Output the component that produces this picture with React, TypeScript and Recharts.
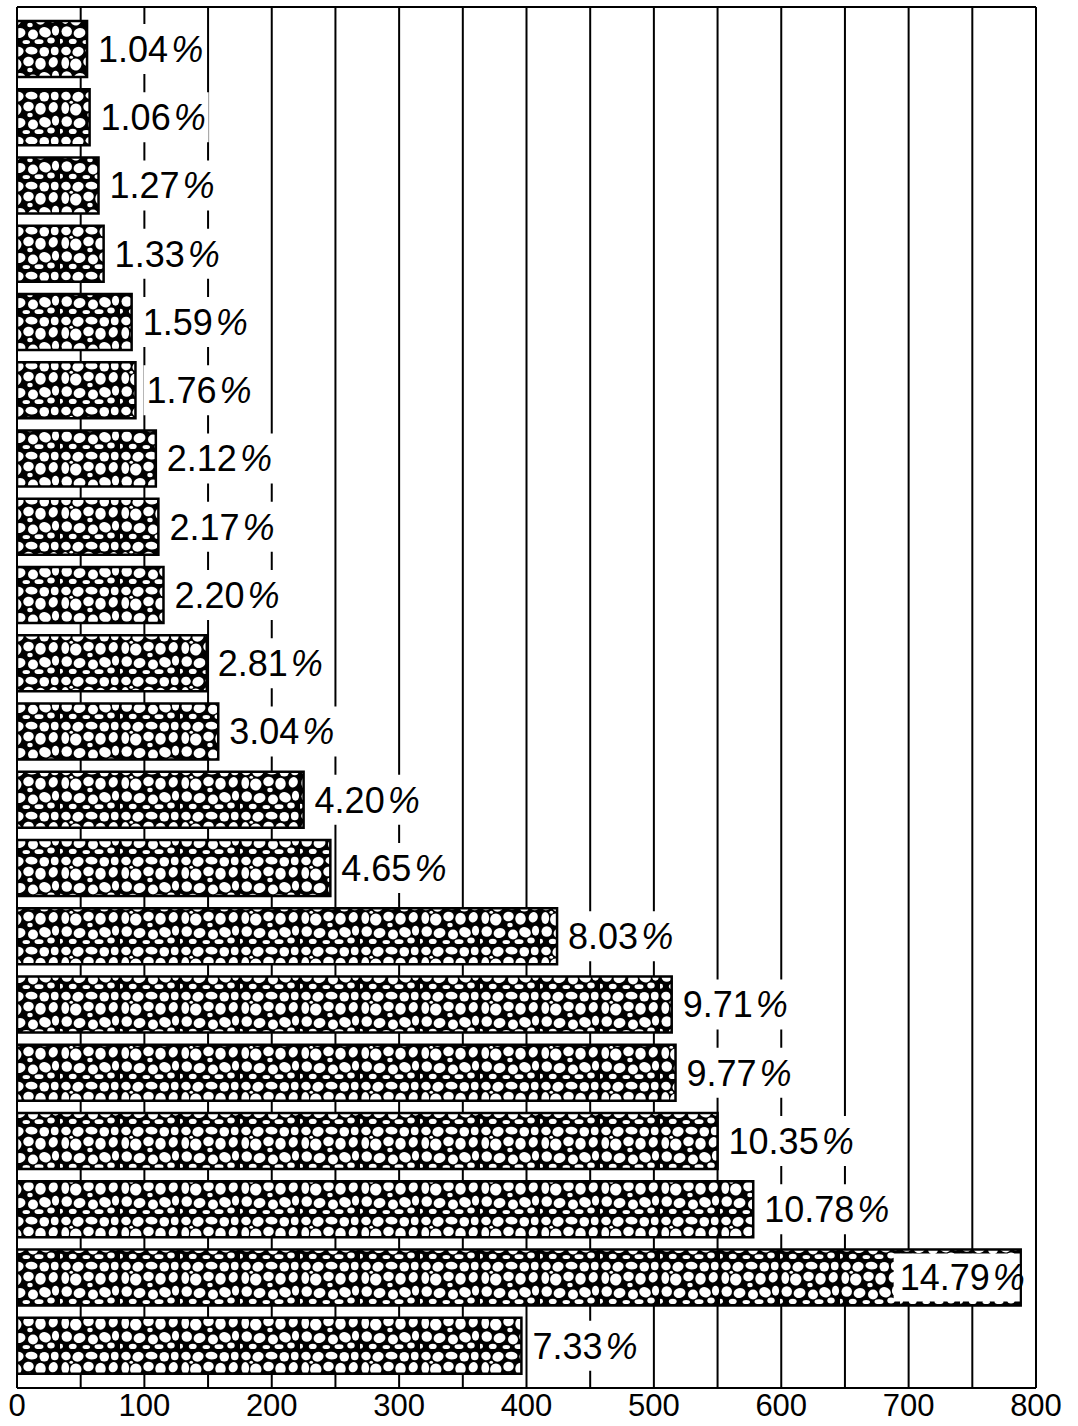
import { BarChart, Bar, XAxis, YAxis, CartesianGrid, LabelList } from 'recharts';

const categories = ['1', '2', '3', '4', '5', '6', '7', '8', '9', '10', '11', '12', '13', '14', '15', '16', '17', '18', '19', '20'];
const counts = [55, 57, 64, 68, 90, 93, 109, 111, 115, 149, 158, 225, 246, 424, 514, 517, 550, 578, 788, 396];
const shares = [1.04, 1.06, 1.27, 1.33, 1.59, 1.76, 2.12, 2.17, 2.2, 2.81, 3.04, 4.2, 4.65, 8.03, 9.71, 9.77, 10.35, 10.78, 14.79, 7.33];
const xTicks = [0, 100, 200, 300, 400, 500, 600, 700, 800];
const gridValues = [0, 50, 100, 150, 200, 250, 300, 350, 400, 450, 500, 550, 600, 650, 700, 750, 800];

const data = categories.map((name, i) => ({ name, count: counts[i], share: shares[i] }));

const W = 1078;
const H = 1426;
const margin = { top: 7, right: 42, left: 17, bottom: 0 };
const plotRight = W - margin.right;
const FONT = '"Liberation Sans", Arial, sans-serif';
const LABEL_FS = 36;

// white pebbles on black, one tile
const pebbles = [
  [4, 4, 3.2, 2.8, 10], [12, 4.5, 3.8, 3.2, -20], [21, 3.8, 4, 2.6, 5], [29.5, 4.5, 3.2, 3.2, 0], [36.5, 4, 2.6, 2.8, 0],
  [3.5, 12, 2.6, 4, 0], [10.5, 13, 3.8, 4, 15], [19, 11, 3.5, 3.2, -10], [27, 12.5, 3.5, 4, 0], [35.5, 11.5, 3, 3.5, 20],
  [20, 16.6, 1.8, 1.5, 0], [4.5, 21, 3.5, 3.5, 0], [13, 22, 4, 3.3, -15], [22, 23, 3.3, 3.3, 0], [30, 21.5, 4, 3.3, 25],
  [37, 20.5, 2.4, 3.4, 0], [8.5, 27.6, 2.6, 1.7, 0], [17.5, 28, 2.5, 1.4, 0], [26, 27.8, 3, 1.6, 0], [34, 27, 2.5, 2, 0],
  [0.5, 27.5, 1.5, 1.6, 0], [7.5, 8.2, 1.2, 1, 0],
];

function textWidth(num: string) {
  let w = 0;
  for (const ch of num) w += ch === '.' ? 0.278 : 0.556;
  return (w + 0.889) * LABEL_FS + 3;
}

function ShareLabel(props: any) {
  const { x, y, width, height, index } = props;
  const num = shares[index].toFixed(2);
  const tw = textWidth(num);
  const cy = y + height / 2;
  const end = x + width;
  const inside = end + 10 + tw > plotRight;
  const tx = inside ? end + 4 - tw : end + 11;
  return (
    <g>
      {inside ? (
        <rect x={tx - 6} y={y + 4} width={end - 1 - (tx - 6)} height={height - 8} fill="#fff" />
      ) : (
        <rect x={tx - 3} y={cy - 25} width={tw + 6} height={50} fill="#fff" />
      )}
      <text x={tx} y={cy} dy="0.36em" fontSize={LABEL_FS} fontFamily={FONT} fill="#000">
        {num}
        <tspan dx={3} fontStyle="italic">%</tspan>
      </text>
    </g>
  );
}

export default function App() {
  return (
    <div style={{ position: 'absolute', left: 0, top: 0, width: W, height: H, background: '#fff' }}>
      <svg width={0} height={0} style={{ position: 'absolute' }}>
        <defs>
          <pattern id="pebbles" patternUnits="userSpaceOnUse" width={40} height={30} patternTransform="scale(1.5)">
            <rect width={40} height={30} fill="#000" />
            {pebbles.map(([cx, cy, rx, ry, r], i) => (
              <ellipse key={i} cx={cx} cy={cy} rx={rx} ry={ry} fill="#fff" transform={`rotate(${r} ${cx} ${cy})`} />
            ))}
          </pattern>
        </defs>
      </svg>
      <BarChart width={W} height={H} data={data} layout="vertical" margin={margin}>
        <CartesianGrid
          stroke="#000"
          strokeWidth={2}
          verticalValues={gridValues}
          horizontalCoordinatesGenerator={({ offset }: any) => [offset.top, offset.top + offset.height]}
        />
        <XAxis
          type="number"
          domain={[0, 800]}
          ticks={xTicks}
          allowDataOverflow
          axisLine={false}
          tickLine={false}
          tickSize={0}
          tickMargin={6}
          height={38}
          tick={{ fontSize: 31, fill: '#000', fontFamily: FONT }}
        />
        <YAxis type="category" dataKey="name" hide width={0} padding={{ top: 8, bottom: 8 }} />
        <Bar dataKey="count" barSize={56} fill="url(#pebbles)" stroke="#000" strokeWidth={2.5} isAnimationActive={false}>
          <LabelList dataKey="share" content={ShareLabel} />
        </Bar>
      </BarChart>
    </div>
  );
}
